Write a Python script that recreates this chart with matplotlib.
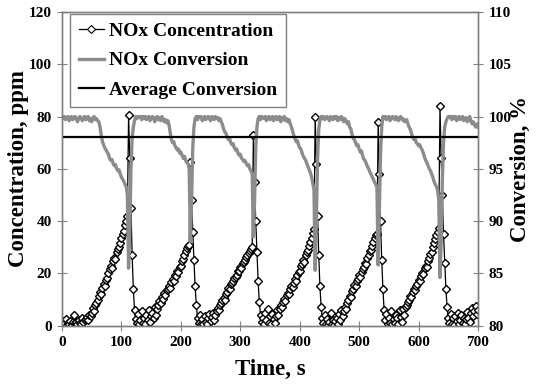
import numpy as np
import matplotlib
matplotlib.use("Agg")
import matplotlib.pyplot as plt
from matplotlib.lines import Line2D

plt.rcParams['font.family'] = ['Liberation Serif', 'DejaVu Serif']
plt.rcParams['font.weight'] = 'bold'

# time grid of the logger, s
time = np.arange(0, 701, 2)

# NOx concentration, ppm (left axis), one row = 20 s
nox_conc = [
    0.5, 1.6, 0.8, 2.5, 0.3, 1.1, 0.7, 1.9, 0.4, 1.3,
    4.0, 0.9, 1.5, 0.5, 2.2, 1.0, 0.6, 2.8, 1.4, 2.0,
    2.5, 3.2, 2.0, 4.2, 3.5, 5.0, 6.8, 5.6, 7.8, 8.5,
    10.0, 11.2, 12.8, 12.0, 14.5, 15.8, 15.0, 17.5, 18.4, 20.0,
    21.5, 22.8, 22.0, 24.8, 26.0, 25.5, 28.2, 29.5, 30.0, 31.8,
    33.5, 35.0, 36.2, 38.5, 40.0, 42.0, 80.5, 64.0, 45.0, 27.0,
    14.0, 6.0, 2.5, 1.0, 4.5, 0.5, 2.0, 5.5, 1.2, 3.0,
    0.8, 4.0, 2.0, 6.0, 1.5, 3.5, 5.0, 2.8, 7.0, 4.2,
    6.5, 8.0, 9.5, 8.8, 11.0, 10.2, 12.5, 11.8, 13.8, 14.0,
    15.2, 14.5, 16.8, 18.0, 17.2, 19.5, 19.0, 21.0, 20.5, 22.5,
    23.0, 24.8, 25.5, 27.0, 28.5, 29.8, 30.5, 31.0, 62.5, 48.0,
    36.0, 25.0, 15.0, 8.0, 3.0, 1.0, 4.0, 0.5, 2.5, 0.8,
    3.5, 1.5, 0.6, 2.8, 4.5, 1.8, 3.2, 5.0, 2.2, 4.0,
    5.5, 6.8, 6.0, 8.0, 8.5, 9.8, 10.5, 10.0, 12.2, 13.0,
    14.5, 14.0, 15.8, 16.5, 17.0, 18.2, 18.8, 19.5, 20.8, 21.0,
    22.5, 22.0, 23.8, 24.5, 25.0, 26.2, 27.0, 27.8, 28.5, 29.5,
    30.0, 72.8, 55.0, 40.0, 28.0, 17.0, 9.0, 4.0, 1.5, 3.0,
    0.8, 5.0, 2.0, 6.5, 1.0, 3.8, 0.5, 4.5, 2.5, 1.2,
    3.5, 5.8, 4.0, 6.5, 7.8, 7.0, 9.0, 10.2, 9.5, 11.8,
    12.5, 12.0, 14.0, 15.2, 14.8, 16.5, 17.8, 17.0, 19.5, 20.5,
    21.0, 22.8, 23.5, 25.0, 24.5, 27.0, 28.2, 29.0, 30.5, 32.0,
    33.5, 35.5, 37.0, 80.0, 62.0, 42.0, 27.0, 15.0, 7.0, 3.0,
    1.0, 4.0, 0.5, 2.5, 0.3, 1.5, 5.0, 0.8, 2.0, 0.4,
    1.8, 3.0, 0.6, 4.5, 2.2, 6.0, 3.5, 5.5, 7.2, 6.5,
    8.5, 10.0, 11.5, 11.0, 13.2, 14.0, 15.5, 15.0, 17.2, 18.0,
    19.2, 18.8, 20.5, 21.8, 22.5, 24.0, 23.5, 25.8, 27.0, 28.5,
    29.0, 30.5, 32.0, 33.5, 34.5, 35.0, 78.0, 58.0, 40.0, 25.0,
    14.0, 6.0, 2.0, 4.5, 0.5, 3.0, 1.2, 5.5, 0.6, 2.4,
    1.0, 4.0, 2.8, 0.5, 5.8, 3.2, 1.5, 6.5, 4.0, 7.0,
    8.0, 9.2, 10.0, 11.5, 11.0, 12.8, 14.0, 13.5, 15.2, 16.0,
    17.5, 17.0, 19.0, 20.2, 19.8, 22.0, 23.0, 22.5, 24.8, 26.0,
    27.5, 28.2, 30.0, 31.5, 33.0, 34.8, 36.0, 37.5, 84.0, 64.0,
    50.0, 35.0, 24.0, 14.0, 7.0, 3.0, 1.0, 4.5, 0.6, 2.8,
    0.4, 3.5, 1.8, 5.0, 0.8, 2.2, 4.0, 1.0, 3.0, 0.5,
    2.5, 5.2, 3.0, 1.5, 4.8, 6.8, 3.5, 5.5, 7.5, 4.5,
    6.0,
]

# NOx conversion, % (right axis)
nox_conv = [
    100.0, 99.8, 100.0, 99.7, 99.9, 100.0, 99.6, 99.8, 100.0, 99.7,
    99.9, 100.0, 99.8, 99.5, 99.8, 100.0, 99.9, 99.6, 99.8, 100.0,
    99.7, 99.9, 100.0, 99.6, 99.8, 99.5, 99.9, 100.0, 99.7, 99.8,
    99.6, 99.5, 99.0, 98.2, 97.6, 97.3, 97.0, 96.8, 96.6, 96.4,
    96.0, 95.8, 95.9, 95.5, 95.3, 95.4, 95.0, 94.8, 94.9, 94.5,
    94.2, 94.0, 93.8, 93.5, 93.3, 92.5, 85.5, 89.0, 95.0, 98.0,
    99.0, 99.6, 100.0, 99.8, 100.0, 99.9, 100.0, 99.7, 100.0, 99.8,
    100.0, 99.7, 99.9, 100.0, 99.6, 99.8, 100.0, 99.9, 99.5, 99.8,
    100.0, 99.7, 99.9, 99.6, 100.0, 99.8, 99.5, 99.7, 99.4, 99.6,
    99.2, 98.5, 97.8, 97.5, 97.6, 97.2, 97.0, 96.8, 96.9, 96.5,
    96.6, 96.3, 96.0, 96.2, 95.8, 95.6, 95.5, 95.0, 88.0, 92.0,
    97.0, 99.0, 99.8, 100.0, 99.7, 100.0, 99.9, 100.0, 99.6, 99.8,
    100.0, 99.7, 99.9, 100.0, 99.8, 99.6, 100.0, 99.9, 99.7, 100.0,
    99.8, 99.9, 99.6, 99.8, 99.5, 99.2, 98.8, 98.5, 98.4, 98.0,
    97.8, 97.9, 97.5, 97.3, 97.4, 97.0, 96.8, 96.9, 96.5, 96.3,
    96.4, 96.0, 95.9, 95.7, 95.8, 95.5, 95.3, 95.4, 95.0, 94.8,
    94.5, 88.5, 92.0, 97.0, 99.0, 99.8, 100.0, 99.7, 100.0, 99.9,
    99.8, 100.0, 99.6, 99.9, 100.0, 99.7, 99.8, 100.0, 99.6, 99.9,
    100.0, 99.7, 99.8, 100.0, 99.5, 99.9, 99.7, 100.0, 99.6, 99.8,
    99.5, 99.7, 99.3, 99.0, 98.6, 98.2, 97.9, 97.6, 97.7, 97.3,
    97.0, 96.9, 96.5, 96.2, 96.0, 95.8, 95.5, 95.2, 94.9, 94.6,
    94.2, 93.6, 93.0, 85.3, 90.0, 96.0, 98.8, 99.6, 100.0, 99.8,
    100.0, 99.7, 99.9, 100.0, 99.8, 99.6, 100.0, 99.9, 99.7, 100.0,
    99.8, 100.0, 99.6, 99.9, 99.7, 100.0, 99.8, 99.5, 99.8, 99.6,
    99.3, 99.5, 99.0, 98.8, 98.3, 97.9, 97.8, 97.5, 97.2, 97.3,
    96.9, 96.6, 96.7, 96.2, 95.9, 95.8, 95.5, 95.2, 95.0, 94.7,
    94.5, 94.2, 94.0, 93.7, 93.5, 93.2, 85.8, 91.0, 96.5, 99.0,
    100.0, 99.8, 100.0, 99.7, 99.9, 100.0, 99.6, 99.8, 100.0, 99.9,
    99.7, 100.0, 99.8, 99.6, 99.9, 100.0, 99.7, 99.8, 99.5, 99.6,
    99.7, 99.3, 99.0, 98.8, 98.4, 98.0, 97.8, 97.9, 97.5, 97.4,
    97.2, 97.3, 97.0, 96.8, 96.5, 96.1, 95.8, 95.6, 95.3, 95.0,
    94.8, 94.5, 94.2, 93.8, 93.5, 93.3, 93.0, 92.0, 84.6, 88.0,
    94.0, 97.5, 99.0, 99.5, 99.8, 100.0, 99.9, 100.0, 99.7, 100.0,
    99.8, 100.0, 99.6, 99.9, 100.0, 99.7, 99.8, 100.0, 99.6, 99.8,
    99.9, 99.5, 99.7, 100.0, 99.6, 99.3, 99.5, 99.2, 99.0, 99.3,
    99.0,
]

avg_conv = 98.05

gray = '#808080'

fig = plt.figure(figsize=(5.36, 3.90), dpi=100)
ax = fig.add_axes([0.1157, 0.165, 0.7761, 0.8044])
ax2 = ax.twinx()

ax.plot(time, nox_conc, color='black', lw=0.9, marker='D', markersize=4.5,
        markerfacecolor='white', markeredgecolor='black', markeredgewidth=1.0)
ax2.plot(time, nox_conv, color='#8c8c8c', lw=2.4)
ax2.plot([0, 700], [avg_conv, avg_conv], color='black', lw=1.6)

ax.set_xlim(0, 700)
ax.set_ylim(0, 120)
ax2.set_ylim(80, 110)
ax.set_xticks(range(0, 701, 100))
ax.set_yticks(range(0, 121, 20))
ax2.set_yticks(range(80, 111, 5))

for a in (ax, ax2):
    for s in a.spines.values():
        s.set_color(gray)
        s.set_linewidth(1.0)
ax.tick_params(axis='both', direction='inout', length=7, color=gray,
               labelsize=11, pad=4)
ax2.tick_params(axis='y', direction='inout', length=7, color=gray,
                labelsize=11, pad=4)

ax.set_xlabel('Time, s', fontsize=16.5, fontweight='bold', labelpad=7)
ax.set_ylabel('Concentration, ppm', fontsize=16.5, fontweight='bold', labelpad=0)
ax2.set_ylabel('Conversion, %', fontsize=16.5, fontweight='bold', labelpad=-1)

handles = [
    Line2D([], [], color='black', lw=0.9, marker='D', markersize=4,
           markerfacecolor='white', markeredgecolor='black', markeredgewidth=0.8),
    Line2D([], [], color='#8c8c8c', lw=2.4),
    Line2D([], [], color='black', lw=1.6),
]
labels = ['NOx Concentration', 'NOx Conversion', 'Average Conversion']
leg = ax2.legend(handles, labels, loc='upper left', bbox_to_anchor=(0.019, 0.994),
                 borderaxespad=0, fancybox=False, frameon=True, framealpha=1,
                 edgecolor=gray, prop={'size': 14, 'weight': 'bold'},
                 handlelength=1.3, handletextpad=0.25, labelspacing=0.6,
                 borderpad=0.45, numpoints=1)
leg.get_frame().set_linewidth(1.0)

fig.savefig('out.png', dpi=100)
